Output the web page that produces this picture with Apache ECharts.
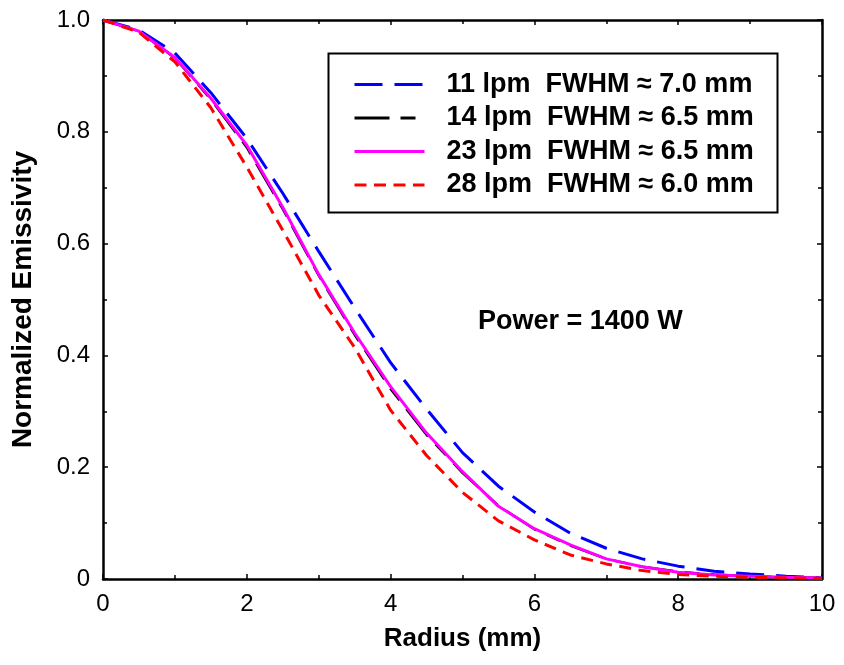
<!DOCTYPE html>
<html>
<head>
<meta charset="utf-8">
<script src="https://cdn.jsdelivr.net/npm/echarts@6/dist/echarts.min.js"></script>
<style>
  html, body { margin: 0; padding: 0; background: #fff; }
  #chart { width: 844px; height: 665px; }
</style>
</head>
<body>
<div id="chart"></div>
<script>
// radius (mm) sample points
const radius = [0, 0.5, 1, 1.5, 2, 2.5, 3, 3.5, 4, 4.5, 5, 5.5, 6, 6.5, 7, 7.5, 8, 8.5, 9, 9.5, 10];
// normalized emissivity
const lpm11 = [1.0, 0.982, 0.941, 0.87, 0.788, 0.69, 0.586, 0.485, 0.387, 0.304, 0.226, 0.166, 0.12, 0.082, 0.055, 0.036, 0.023, 0.014, 0.009, 0.005, 0.002];
const lpm14 = [1.0, 0.98, 0.932, 0.858, 0.772, 0.662, 0.543, 0.437, 0.34, 0.258, 0.19, 0.131, 0.089, 0.06, 0.036, 0.022, 0.013, 0.008, 0.005, 0.003, 0.002];
const lpm23 = [1.0, 0.98, 0.933, 0.86, 0.776, 0.665, 0.545, 0.44, 0.344, 0.261, 0.192, 0.13, 0.09, 0.061, 0.036, 0.022, 0.012, 0.007, 0.005, 0.003, 0.002];
const lpm28 = [1.0, 0.978, 0.925, 0.843, 0.737, 0.624, 0.508, 0.414, 0.302, 0.221, 0.155, 0.104, 0.07, 0.043, 0.027, 0.015, 0.008, 0.005, 0.003, 0.002, 0.001];

const names = [
    "11 lpm  FWHM \u2248 7.0 mm",
    "14 lpm  FWHM \u2248 6.5 mm",
    "23 lpm  FWHM \u2248 6.5 mm",
    "28 lpm  FWHM \u2248 6.0 mm"
];
const xTicks = [0, 2, 4, 6, 8, 10];
const yTicks = [0, 0.2, 0.4, 0.6, 0.8, 1.0];

const font = "'Liberation Sans', Arial, sans-serif";

const pairs = (ys) => radius.map((x, i) => [x, ys[i]]);

const chart = echarts.init(document.getElementById("chart"), null, { renderer: "canvas" });

const axisCommon = {
    axisLine: { show: true, onZero: false, lineStyle: { color: "#000", width: 2.5 } },
    axisTick: { show: true, inside: true, length: 5, lineStyle: { color: "#000", width: 1.5 } },
    minorTick: { show: true, splitNumber: 2, length: 4, lineStyle: { color: "#000", width: 1.5 } },
    splitLine: { show: false },
};

const option = {
    backgroundColor: "#fff",
    animation: false,
    grid: { left: 103, right: 22, top: 20, bottom: 86, containLabel: false },
    legend: {
        orient: "vertical",
        left: 326,
        top: 51,
        padding: [20, 18, 18, 27],
        itemWidth: 70,
        itemHeight: 25,
        itemGap: 6.5,
        data: names,
        itemStyle: { opacity: 0 },
        lineStyle: { width: 3 },
        textStyle: {
            color: "#000",
            fontFamily: font,
            fontWeight: "bold",
            fontSize: 27,
            lineHeight: 25,
            padding: [0, 0, 0, 17],
        },
    },
    graphic: [
        {
            type: "rect",
            left: 326,
            top: 51,
            shape: { width: 449, height: 159 },
            style: { fill: "none", stroke: "#000", lineWidth: 2 },
            z: 10,
        },
        {
            type: "text",
            left: 478,
            top: 308,
            style: {
                text: "Power = 1400 W",
                fill: "#000",
                font: "bold 27px " + font,
            },
        },
    ],
    xAxis: [
        Object.assign({}, axisCommon, {
            type: "value",
            min: 0,
            max: 10,
            interval: 2,
            name: "Radius (mm)",
            nameLocation: "middle",
            nameGap: 47,
            nameTextStyle: { color: "#000", fontFamily: font, fontWeight: "bold", fontSize: 26 },
            axisLabel: {
                color: "#000",
                fontFamily: font,
                fontSize: 24,
                margin: 13,
                customValues: xTicks,
            },
        }),
        Object.assign({}, axisCommon, {
            type: "value",
            position: "top",
            min: 0,
            max: 10,
            interval: 2,
            axisLabel: { show: false },
        }),
    ],
    yAxis: [
        Object.assign({}, axisCommon, {
            type: "value",
            min: 0,
            max: 1,
            interval: 0.2,
            name: "Normalized Emissivity",
            nameLocation: "middle",
            nameGap: 66,
            nameTextStyle: { color: "#000", fontFamily: font, fontWeight: "bold", fontSize: 28 },
            axisLabel: {
                color: "#000",
                fontFamily: font,
                fontSize: 24,
                margin: 13,
                customValues: yTicks,
                formatter: (v) => (v === 0 ? "0" : v.toFixed(1)),
            },
        }),
        Object.assign({}, axisCommon, {
            type: "value",
            position: "right",
            min: 0,
            max: 1,
            interval: 0.2,
            axisLabel: { show: false },
        }),
    ],
    series: [
        {
            name: names[0],
            type: "line",
            data: pairs(lpm11),
            symbol: "none",
            lineStyle: { color: "#0000ff", width: 3, type: [28, 12] },
            itemStyle: { color: "#0000ff" },
        },
        {
            name: names[1],
            type: "line",
            data: pairs(lpm14),
            symbol: "none",
            lineStyle: { color: "#000000", width: 2.5, type: [35, 11, 15, 11] },
            itemStyle: { color: "#000000" },
        },
        {
            name: names[2],
            type: "line",
            data: pairs(lpm23),
            symbol: "none",
            lineStyle: { color: "#ff00ff", width: 3, type: "solid" },
            itemStyle: { color: "#ff00ff" },
        },
        {
            name: names[3],
            type: "line",
            data: pairs(lpm28),
            symbol: "none",
            lineStyle: { color: "#ff0000", width: 3, type: [12, 7.5] },
            itemStyle: { color: "#ff0000" },
        },
    ],
};
chart.setOption(option);
</script>
</body>
</html>
